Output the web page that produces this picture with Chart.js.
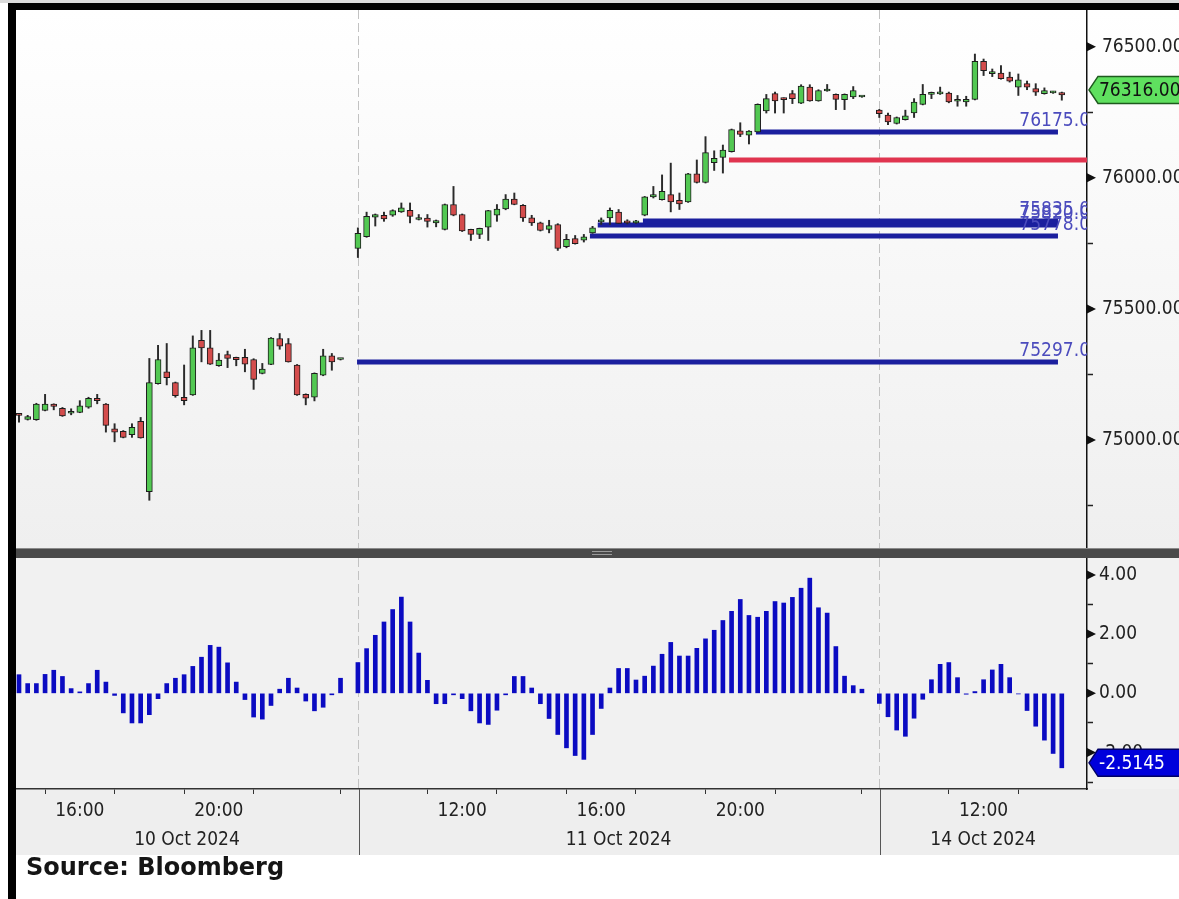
<!DOCTYPE html>
<html>
<head>
<meta charset="utf-8">
<script src="https://cdn.jsdelivr.net/npm/chart.js@4.4.1/dist/chart.umd.min.js"></script>
<style>
  html, body { margin: 0; padding: 0; background: #fff; }
  #frame { position: relative; width: 1179px; height: 899px; overflow: hidden; background: #fff; }
  .abs { position: absolute; }
  #topline { left: 0; top: 0; width: 1179px; height: 3px; background: #dadada; }
  #topbar { left: 8px; top: 3px; width: 1171px; height: 7px; background: #000; }
  #leftbar { left: 8px; top: 3px; width: 8px; height: 896px; background: #000; }
  #upperBg { left: 16px; top: 10px; width: 1163px; height: 538px; background: linear-gradient(#ffffff, #efefef); }
  #sep { left: 16px; top: 548px; width: 1163px; height: 10px; background: #4a4a4a; border-top: 1px solid #8a8a8a; box-sizing: border-box; }
  .grip { left: 592px; width: 20px; height: 1px; background: #9a9a9a; }
  #lowerBg { left: 16px; top: 558px; width: 1163px; height: 231px; background: #f1f1f1; }
  #bandBg { left: 16px; top: 789px; width: 1163px; height: 66px; background: #eeeeee; }
  #upper { left: 0; top: 10px; }
  #lower { left: 0; top: 558px; }
  #source { left: 26px; top: 855px; font: bold 24px 'DejaVu Sans', sans-serif; line-height: 24px; color: #151515; white-space: nowrap; }
</style>
</head>
<body>
<div id="frame">
  <div id="topline" class="abs"></div>
  <div id="upperBg" class="abs"></div>
  <div id="lowerBg" class="abs"></div>
  <div id="bandBg" class="abs"></div>
  <canvas id="upper" class="abs" width="1179" height="538"></canvas>
  <canvas id="lower" class="abs" width="1179" height="297"></canvas>
  <div id="sep" class="abs"></div>
  <div class="abs grip" style="top:551px"></div>
  <div class="abs grip" style="top:554px"></div>
  <div id="topbar" class="abs"></div>
  <div id="leftbar" class="abs"></div>
  <div id="source" class="abs">Source: Bloomberg</div>
</div>

<script>
// 15-minute candles, three sessions (10, 11 and 14 Oct 2024)
const sessionStart = [0, 39, 99];
const sessionCount = [38, 59, 22];
const dayLabels = ['10 Oct 2024', '11 Oct 2024', '14 Oct 2024'];

const open = [
  75100, 75078, 75077, 75113, 75137, 75121, 75102, 75105, 75125, 75159,
  75137, 75043, 75033, 75020, 75071, 74803, 75215, 75260, 75219, 75163,
  75172, 75380, 75351, 75283, 75326, 75315, 75315, 75307, 75254, 75288,
  75387, 75368, 75286, 75174, 75163, 75247, 75321, 75307,
  75731, 75775, 75850, 75857, 75857, 75870, 75876, 75841, 75846, 75828,
  75803, 75898, 75860, 75803, 75784, 75812, 75857, 75881, 75919, 75895,
  75847, 75828, 75803, 75822, 75737, 75768, 75762, 75790, 75832, 75847,
  75869, 75835, 75828, 75857, 75927, 75917, 75936, 75914, 75908, 76015,
  75982, 76058, 76078, 76100, 76179, 76163, 76175, 76255, 76321, 76304,
  76321, 76285, 76346, 76293, 76331, 76318, 76298, 76308, 76308,
  76258, 76239, 76207, 76222, 76247, 76280, 76318, 76320, 76323, 76292,
  76289, 76299, 76444, 76397, 76399, 76384, 76346, 76359, 76340, 76321,
  76324, 76325
];
const high = [
  75101, 75094, 75140, 75174, 75138, 75124, 75119, 75150, 75163, 75174,
  75139, 75062, 75036, 75062, 75086, 75311, 75361, 75368, 75221, 75286,
  75397, 75418, 75418, 75330, 75339, 75316, 75346, 75310, 75292, 75391,
  75406, 75387, 75288, 75176, 75256, 75346, 75330, 75309,
  75809, 75869, 75862, 75869, 75878, 75904, 75904, 75860, 75860, 75839,
  75900, 75967, 75862, 75804, 75808, 75876, 75898, 75936, 75942, 75898,
  75857, 75831, 75838, 75825, 75784, 75780, 75784, 75815, 75847, 75885,
  75879, 75840, 75838, 75929, 75967, 76011, 76056, 75942, 76017, 76068,
  76157, 76103, 76125, 76186, 76210, 76180, 76282, 76318, 76327, 76305,
  76333, 76355, 76355, 76336, 76356, 76320, 76320, 76348, 76311,
  76261, 76247, 76232, 76258, 76302, 76356, 76327, 76346, 76327, 76314,
  76311, 76472, 76453, 76415, 76428, 76403, 76396, 76369, 76359, 76343,
  76330, 76327
];
const low = [
  75068, 75076, 75075, 75111, 75115, 75090, 75096, 75104, 75121, 75138,
  75030, 74993, 75008, 75010, 75007, 74770, 75213, 75210, 75163, 75134,
  75170, 75298, 75288, 75281, 75276, 75283, 75260, 75193, 75252, 75287,
  75346, 75297, 75170, 75134, 75149, 75245, 75266, 75305,
  75696, 75773, 75816, 75834, 75853, 75868, 75828, 75839, 75812, 75813,
  75801, 75855, 75795, 75761, 75768, 75761, 75834, 75878, 75897, 75834,
  75818, 75797, 75790, 75723, 75733, 75747, 75755, 75788, 75822, 75822,
  75825, 75824, 75826, 75855, 75923, 75915, 75870, 75879, 75906, 75980,
  75980, 76028, 76018, 76098, 76157, 76129, 76174, 76247, 76247, 76247,
  76283, 76283, 76292, 76292, 76330, 76260, 76260, 76302, 76307,
  76230, 76203, 76205, 76220, 76230, 76278, 76302, 76318, 76286, 76273,
  76273, 76297, 76390, 76386, 76376, 76365, 76314, 76336, 76314, 76319,
  76322, 76296
];
const close = [
  75094, 75089, 75137, 75137, 75128, 75092, 75109, 75130, 75159, 75150,
  75056, 75030, 75010, 75048, 75008, 75219, 75307, 75238, 75169, 75150,
  75351, 75351, 75289, 75305, 75311, 75306, 75289, 75231, 75270, 75389,
  75358, 75298, 75172, 75159, 75254, 75321, 75298, 75308,
  75788, 75853, 75860, 75843, 75875, 75885, 75853, 75846, 75834, 75837,
  75898, 75857, 75797, 75784, 75807, 75875, 75881, 75919, 75898, 75847,
  75828, 75799, 75818, 75731, 75765, 75749, 75775, 75809, 75838, 75876,
  75826, 75828, 75834, 75927, 75936, 75948, 75908, 75900, 76015, 75982,
  76096, 76074, 76106, 76184, 76165, 76178, 76280, 76302, 76293, 76298,
  76302, 76350, 76293, 76333, 76335, 76299, 76318, 76333, 76310,
  76245, 76213, 76230, 76236, 76289, 76318, 76325, 76326, 76289, 76299,
  76299, 76444, 76409, 76405, 76378, 76369, 76374, 76346, 76327, 76333,
  76328, 76316
];

// lower panel histogram, one bar per candle
const histValues = [
  0.63, 0.33, 0.33, 0.64, 0.78, 0.57, 0.16, 0.05, 0.33, 0.78,
  0.38, -0.07, -0.66, -1.00, -1.00, -0.72, -0.18, 0.33, 0.51, 0.63,
  0.91, 1.22, 1.62, 1.56, 1.03, 0.38, -0.21, -0.80, -0.87, -0.41,
  0.14, 0.51, 0.18, -0.26, -0.59, -0.47, -0.05, 0.51,
  1.04, 1.51, 1.96, 2.41, 2.83, 3.25, 2.41, 1.36, 0.44, -0.35,
  -0.35, -0.05, -0.18, -0.59, -1.00, -1.05, -0.57, -0.05, 0.57, 0.57,
  0.18, -0.35, -0.85, -1.39, -1.84, -2.10, -2.23, -1.39, -0.51, 0.18,
  0.84, 0.84, 0.45, 0.58, 0.92, 1.32, 1.72, 1.26, 1.26, 1.52,
  1.84, 2.13, 2.46, 2.77, 3.17, 2.63, 2.57, 2.77, 3.10, 3.05,
  3.24, 3.55, 3.89, 2.89, 2.71, 1.58, 0.58, 0.26, 0.14,
  -0.34, -0.79, -1.24, -1.45, -0.84, -0.20, 0.46, 0.98, 1.04, 0.53,
  -0.03, 0.06, 0.46, 0.79, 0.98, 0.53, -0.02, -0.58, -1.11, -1.58,
  -2.03, -2.5145
];

// horizontal levels drawn on the price panel
const levelValues = [75297, 76175, 76068, 75835, 75820, 75778];
const levelFrom   = [38.9, 84.8, 81.7, 71.8, 66.6, 65.7];
const levelTo     = [119.56, 119.56, 122.9, 119.56, 119.56, 119.56];
const levelColors = ['#1b1f9e', '#1b1f9e', '#e0344f', '#1b1f9e', '#1b1f9e', '#1b1f9e'];
const levelLabeled = [true, true, false, true, true, true];

// axes
const X_MIN = -0.345, X_MAX = 122.9;
const PRICE_MIN = 74588, PRICE_MAX = 76640;
const priceTicks = [74750, 75000, 75250, 75500, 75750, 76000, 76250, 76500];
const HIST_MIN = -3.23, HIST_MAX = 4.57;
const histTicks = [-3, -2, -1, 0, 1, 2, 3, 4];
const timeTicks  = [7, 15, 23, 31, 43, 51, 59, 67, 75, 83, 91, 103, 111, 119];
const timeLabels = ['16:00', '', '20:00', '', '', '12:00', '', '16:00', '', '20:00', '', '', '12:00', ''];
const lastPrice = 76316;
const lastHist = -2.5145;

const NARROW = "'DejaVu Sans Condensed', 'Liberation Sans Narrow', sans-serif";
const FS = 19;

// slot index of each candle (one slot is left empty between sessions)
const slots = [];
sessionStart.forEach((s, k) => {
    for (let j = 0; j < sessionCount[k]; j++) slots.push(s + j);
});
const dayMid = sessionStart.map((s, k) => (s + (k + 1 < sessionStart.length ? sessionStart[k + 1] : X_MAX)) / 2);
dayMid[0] = (X_MIN + sessionStart[1]) / 2;

function drawDayLines(chart) {
    const { ctx, chartArea: a, scales: { x } } = chart;
    ctx.save();
    ctx.strokeStyle = '#c2c2c2';
    ctx.lineWidth = 1;
    ctx.setLineDash([9, 4]);
    sessionStart.slice(1).forEach(s => {
        const px = Math.round(x.getPixelForValue(s)) + 0.5;
        ctx.beginPath();
        ctx.moveTo(px, a.top);
        ctx.lineTo(px, a.bottom);
        ctx.stroke();
    });
    ctx.restore();
}

function drawArrows(chart, values) {
    const { ctx, chartArea: a, scales: { y } } = chart;
    ctx.save();
    ctx.fillStyle = '#111';
    values.forEach(v => {
        const py = y.getPixelForValue(v);
        ctx.beginPath();
        ctx.moveTo(a.right, py - 4.5);
        ctx.lineTo(a.right + 9, py);
        ctx.lineTo(a.right, py + 4.5);
        ctx.closePath();
        ctx.fill();
    });
    ctx.restore();
}

// price tag on the right axis (Bloomberg draws it a few px above the value)
function drawTag(chart, value, text, fill, stroke, color) {
    const { ctx, chartArea: a, scales: { y } } = chart;
    const py = y.getPixelForValue(value) - 5;
    const x0 = a.right + 2, h = 27, tip = 9;
    ctx.save();
    ctx.beginPath();
    ctx.moveTo(x0, py);
    ctx.lineTo(x0 + tip, py - h / 2);
    ctx.lineTo(chart.width + 5, py - h / 2);
    ctx.lineTo(chart.width + 5, py + h / 2);
    ctx.lineTo(x0 + tip, py + h / 2);
    ctx.closePath();
    ctx.fillStyle = fill;
    ctx.fill();
    ctx.lineWidth = 1.5;
    ctx.strokeStyle = stroke;
    ctx.stroke();
    ctx.fillStyle = color;
    ctx.font = `${FS}px ${NARROW}`;
    ctx.textBaseline = 'middle';
    ctx.textAlign = 'left';
    ctx.fillText(text, x0 + 10, py + 1);
    ctx.restore();
}

// ── Price panel ──
const upperDeco = {
    id: 'upperDeco',
    beforeDatasetsDraw(chart) { drawDayLines(chart); },
    afterDatasetsDraw(chart) {
        const { ctx, chartArea: a, scales: { y } } = chart;
        ctx.save();
        ctx.beginPath();
        ctx.rect(a.left, a.top, a.width, a.height);
        ctx.clip();
        ctx.font = `${FS}px ${NARROW}`;
        ctx.fillStyle = '#4b4bbd';
        ctx.textAlign = 'right';
        ctx.textBaseline = 'alphabetic';
        levelValues.forEach((v, i) => {
            if (!levelLabeled[i]) return;
            ctx.fillText(v.toFixed(1), a.right + 3, y.getPixelForValue(v) - 6);
        });
        ctx.restore();
    },
    afterDraw(chart) {
        drawArrows(chart, priceTicks.filter(v => v % 500 === 0));
        drawTag(chart, lastPrice, lastPrice.toFixed(2), '#5fe05f', '#1e5a1e', '#111');
    },
};

const levelDatasets = levelValues.map((v, i) => ({
    type: 'line',
    data: [{ x: levelFrom[i], y: v }, { x: levelTo[i], y: v }],
    borderColor: levelColors[i],
    borderWidth: 5,
    borderCapStyle: 'butt',
    pointRadius: 0,
    order: 3,
}));

new Chart(document.getElementById('upper'), {
    type: 'bar',
    data: {
        datasets: [
            {
                // bodies
                data: slots.map((s, i) => ({ x: s, y: [open[i], close[i]] })),
                backgroundColor: slots.map((s, i) => close[i] >= open[i] ? '#52c852' : '#d44c4c'),
                borderColor: '#1c1c1c',
                borderWidth: 1,
                borderSkipped: false,
                barThickness: 6,
                minBarLength: 2,
                grouped: false,
                order: 1,
            },
            {
                // wicks
                data: slots.map((s, i) => ({ x: s, y: [low[i], high[i]] })),
                backgroundColor: '#2a2a2a',
                barThickness: 1.3,
                grouped: false,
                order: 2,
            },
            ...levelDatasets,
        ],
    },
    options: {
        responsive: false,
        animation: false,
        events: [],
        layout: { padding: { left: 16, top: 0, right: 0, bottom: 0 } },
        plugins: { legend: { display: false }, tooltip: { enabled: false } },
        scales: {
            x: { type: 'linear', min: X_MIN, max: X_MAX, display: false, offset: false },
            y: {
                type: 'linear',
                position: 'right',
                min: PRICE_MIN,
                max: PRICE_MAX,
                afterBuildTicks: (s) => { s.ticks = priceTicks.map(v => ({ value: v })); },
                afterFit: (s) => { s.width = 92; s.paddingTop = 0; s.paddingBottom = 0; },
                ticks: {
                    padding: 9,
                    color: '#222',
                    font: { family: NARROW, size: FS },
                    callback: (v) => v % 500 === 0 ? v.toFixed(2) : '',
                },
                grid: { drawOnChartArea: false, drawTicks: true, tickLength: 6, tickColor: '#222', tickWidth: 1.5 },
                border: { display: true, color: '#111', width: 1.5 },
            },
        },
    },
    plugins: [upperDeco],
});

// ── Histogram panel + time axis ──
const lowerDeco = {
    id: 'lowerDeco',
    beforeDatasetsDraw(chart) { drawDayLines(chart); },
    afterDraw(chart) {
        const { ctx, chartArea: a, scales: { x } } = chart;
        ctx.save();
        ctx.strokeStyle = '#555';
        ctx.lineWidth = 1;
        sessionStart.slice(1).forEach(s => {
            const px = Math.round(x.getPixelForValue(s)) + 1.5;
            ctx.beginPath();
            ctx.moveTo(px, a.bottom);
            ctx.lineTo(px, chart.height);
            ctx.stroke();
        });
        ctx.restore();
        drawArrows(chart, histTicks.filter(v => v % 2 === 0));
        drawTag(chart, lastHist, lastHist.toFixed(4), '#0000dc', '#000066', '#ffffff');
    },
};

new Chart(document.getElementById('lower'), {
    type: 'bar',
    data: {
        datasets: [{
            data: slots.map((s, i) => ({ x: s, y: histValues[i] })),
            backgroundColor: '#0b0bc2',
            barThickness: 4,
            grouped: false,
            xAxisID: 'x',
        }],
    },
    options: {
        responsive: false,
        animation: false,
        events: [],
        layout: { padding: { left: 16, top: 0, right: 0, bottom: 0 } },
        plugins: { legend: { display: false }, tooltip: { enabled: false } },
        scales: {
            x: {
                type: 'linear',
                position: 'bottom',
                weight: 0,
                min: X_MIN,
                max: X_MAX,
                offset: false,
                afterBuildTicks: (s) => { s.ticks = timeTicks.map(v => ({ value: v })); },
                afterFit: (s) => { s.height = 30; s.paddingLeft = 0; s.paddingRight = 0; },
                ticks: {
                    autoSkip: false,
                    maxRotation: 0,
                    padding: 6,
                    color: '#222',
                    font: { family: NARROW, size: FS },
                    callback: (v, i) => timeLabels[i],
                },
                grid: { drawOnChartArea: false, drawTicks: true, tickLength: 5, tickColor: '#333' },
                border: { display: true, color: '#333', width: 1.5 },
            },
            xd: {
                type: 'linear',
                position: 'bottom',
                weight: 1,
                min: X_MIN,
                max: X_MAX,
                offset: false,
                afterBuildTicks: (s) => { s.ticks = dayMid.map(v => ({ value: v })); },
                afterFit: (s) => { s.height = 36; s.paddingLeft = 0; s.paddingRight = 0; },
                ticks: {
                    autoSkip: false,
                    maxRotation: 0,
                    padding: 10,
                    color: '#222',
                    font: { family: NARROW, size: FS },
                    callback: (v, i) => dayLabels[i],
                },
                grid: { display: false, drawTicks: false },
                border: { display: false },
            },
            y: {
                type: 'linear',
                position: 'right',
                min: HIST_MIN,
                max: HIST_MAX,
                afterBuildTicks: (s) => { s.ticks = histTicks.map(v => ({ value: v })); },
                afterFit: (s) => { s.width = 92; s.paddingTop = 0; s.paddingBottom = 0; },
                ticks: {
                    padding: 6,
                    color: '#222',
                    font: { family: NARROW, size: FS },
                    callback: (v) => v % 2 === 0 ? v.toFixed(2) : '',
                },
                grid: { drawOnChartArea: false, drawTicks: true, tickLength: 6, tickColor: '#222', tickWidth: 1.5 },
                border: { display: true, color: '#111', width: 1.5 },
            },
        },
    },
    plugins: [lowerDeco],
});
</script>
</body>
</html>
